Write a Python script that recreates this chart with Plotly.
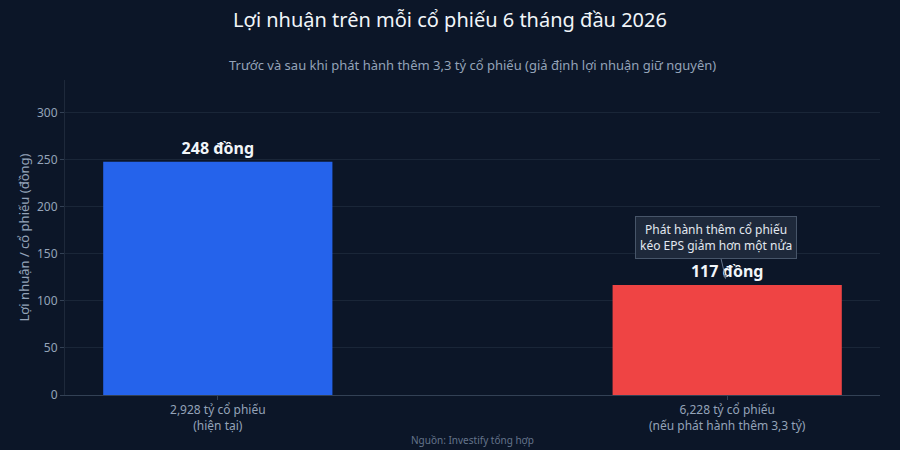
import plotly.graph_objects as go

categories = ["2,928 tỷ cổ phiếu<br>(hiện tại)", "6,228 tỷ cổ phiếu<br>(nếu phát hành thêm 3,3 tỷ)"]
eps_values = [248, 117]
bar_labels = ["248 đồng", "117 đồng"]
bar_colors = ["#2563eb", "#ef4444"]
y_ticks = [0, 50, 100, 150, 200, 250, 300]

BG = "#0c1628"
FONT = "Noto Sans"

fig = go.Figure()
fig.add_trace(go.Bar(
    x=categories,
    y=eps_values,
    marker=dict(color=bar_colors, line=dict(width=0)),
    width=0.45,
    text=bar_labels,
    textposition="outside",
    textfont=dict(family=FONT, size=16, color="#f1f5f9", weight="bold"),
    cliponaxis=False,
    hoverinfo="skip",
))

fig.add_annotation(
    x=categories[1], y=eps_values[1], xref="x", yref="y",
    text="Phát hành thêm cổ phiếu<br>kéo EPS giảm hơn một nửa",
    showarrow=True, ax=-11, ay=-47,
    arrowhead=2, arrowsize=0.8, arrowwidth=1, arrowcolor="#64748b",
    standoff=6,
    font=dict(family=FONT, size=12, color="#e2e8f0"),
    bgcolor="#1e293b", bordercolor="#475569", borderwidth=1, borderpad=4,
)

fig.add_annotation(
    x=0.5, y=(395 - 440) / 315, xref="paper", yref="paper",
    text="Nguồn: Investify tổng hợp", showarrow=False,
    font=dict(family=FONT, size=10, color="#64748b"),
    xanchor="center", yanchor="middle",
)

fig.add_annotation(
    x=0.5, y=(395 - 65) / 315, xref="paper", yref="paper",
    xanchor="center", yanchor="middle",
    text="Trước và sau khi phát hành thêm 3,3 tỷ cổ phiếu (giả định lợi nhuận giữ nguyên)",
    showarrow=False,
    font=dict(family=FONT, size=13, color="#94a3b8"),
)

fig.update_layout(
    width=900, height=450,
    paper_bgcolor=BG, plot_bgcolor=BG,
    margin=dict(l=65, r=20, t=80, b=55),
    title=dict(
        text="Lợi nhuận trên mỗi cổ phiếu 6 tháng đầu 2026",
        x=0.5, xanchor="center", y=1 - 20/450, yanchor="middle",
        font=dict(family=FONT, size=20, color="#f1f5f9"),
    ),
    font=dict(family=FONT, color="#94a3b8"),
    showlegend=False,
    xaxis=dict(
        range=[-0.3, 1.3],
        showgrid=False, showline=True, linecolor="#334155", linewidth=1,
        ticks="outside", tickcolor="#334155", ticklen=4,
        tickfont=dict(family=FONT, size=12, color="#94a3b8"),
    ),
    yaxis=dict(
        range=[0, 335],
        tickvals=y_ticks,
        showgrid=True, gridcolor="#1a2638", gridwidth=1,
        showline=True, linecolor="#1e293b", zeroline=False,
        ticks="outside", tickcolor="#334155", ticklen=4,
        tickfont=dict(family=FONT, size=12, color="#94a3b8"),
        title=dict(text="Lợi nhuận / cổ phiếu (đồng)", font=dict(family=FONT, size=13, color="#94a3b8"), standoff=4),
    ),
)

fig.write_html(
    "out.html",
    config={"displayModeBar": False},
    post_script="document.body.style.margin='0';document.body.style.background='" + BG + "';",
)
